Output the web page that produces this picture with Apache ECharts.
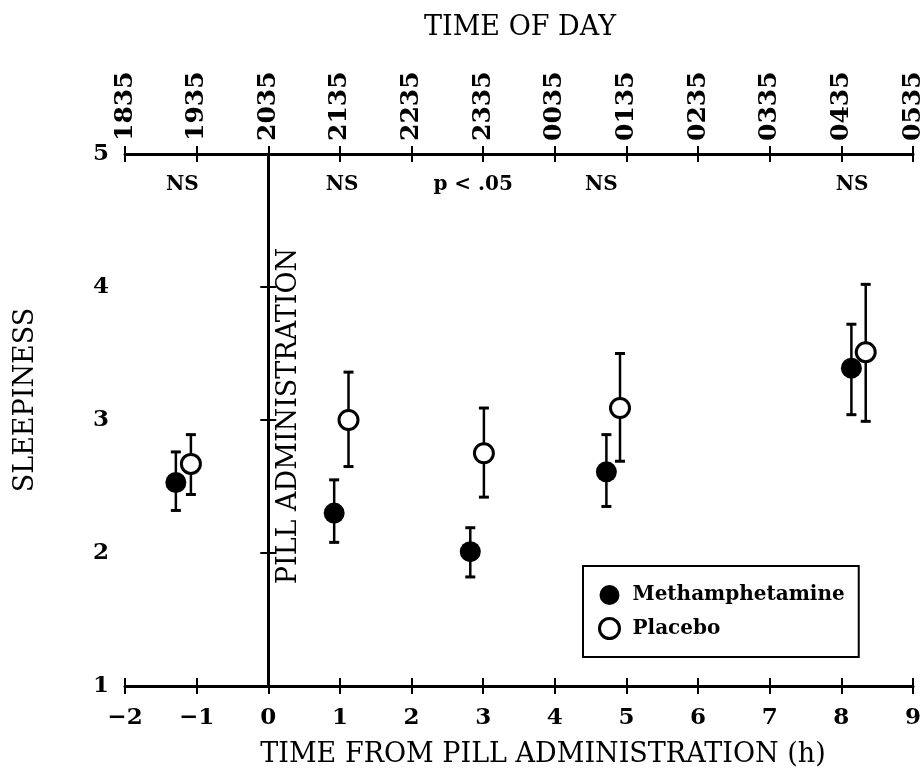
<!DOCTYPE html>
<html>
<head>
<meta charset="utf-8">
<title>Sleepiness</title>
<script src="https://cdn.jsdelivr.net/npm/echarts@6/dist/echarts.min.js"></script>
<style>
  html, body { margin: 0; padding: 0; background: #fff; }
  #main { width: 922px; height: 780px; }
</style>
</head>
<body>
<div id="main"></div>
<script>
var timeLabels = ['1835', '1935', '2035', '2135', '2235', '2335', '0035', '0135', '0235', '0335', '0435', '0535'];

// methamphetamine group
var methX = [-1.29, 0.92, 2.82, 4.72, 8.14];
var methY = [2.53, 2.30, 2.01, 2.61, 3.39];
var methLo = [2.32, 2.08, 1.82, 2.35, 3.04];
var methHi = [2.76, 2.55, 2.19, 2.89, 3.72];

// placebo group
var placX = [-1.08, 1.12, 3.01, 4.91, 8.34];
var placY = [2.67, 3.00, 2.75, 3.09, 3.51];
var placLo = [2.44, 2.65, 2.42, 2.69, 2.99];
var placHi = [2.89, 3.36, 3.09, 3.50, 4.02];

// significance notes along the top
var noteX = [-1.2, 1.03, 2.86, 4.65, 8.15];
var noteText = ['NS', 'NS', 'p < .05', 'NS', 'NS'];
var noteY = 4.77;

// pill given at hour 0
var pillX = 0;

var SERIF = '"DejaVu Serif", "Liberation Serif", serif';

function zip(xs, ys) {
    var out = [];
    for (var i = 0; i < xs.length; i++) out.push([xs[i], ys[i]]);
    return out;
}
function zipErr(xs, lo, hi) {
    var out = [];
    for (var i = 0; i < xs.length; i++) out.push([xs[i], lo[i], hi[i]]);
    return out;
}

function errorBars(params, api) {
    var x = api.value(0);
    var lo = api.coord([x, api.value(1)]);
    var hi = api.coord([x, api.value(2)]);
    var half = 5;
    return {
        type: 'group',
        children: [
            { type: 'line', shape: { x1: lo[0], y1: lo[1], x2: hi[0], y2: hi[1] }, style: { stroke: '#000', lineWidth: 2.5 } },
            { type: 'line', shape: { x1: lo[0] - half, y1: lo[1], x2: lo[0] + half, y2: lo[1] }, style: { stroke: '#000', lineWidth: 3 } },
            { type: 'line', shape: { x1: hi[0] - half, y1: hi[1], x2: hi[0] + half, y2: hi[1] }, style: { stroke: '#000', lineWidth: 3 } }
        ]
    };
}

function noteItem(params, api) {
    var p = api.coord([api.value(0), api.value(1)]);
    return {
        type: 'text', x: p[0], y: p[1],
        style: {
            text: noteText[params.dataIndex], fill: '#000',
            font: 'bold 20px ' + SERIF, align: 'center', verticalAlign: 'middle'
        }
    };
}

function pillLine(params, api) {
    var a = api.coord([api.value(0), 1]);
    var b = api.coord([api.value(0), 5]);
    return {
        type: 'line',
        shape: { x1: Math.round(a[0]) + 0.5, y1: a[1], x2: Math.round(b[0]) + 0.5, y2: b[1] },
        style: { stroke: '#000', lineWidth: 1 }
    };
}

var myChart = echarts.init(document.getElementById('main'));

var tickLabel = { color: '#000', fontFamily: SERIF, fontWeight: 'bold', fontSize: 23 };
var axisLine = { show: true, lineStyle: { color: '#000', width: 3 } };
var tickStyle = { color: '#000', width: 2 };

var option = {
    backgroundColor: '#fff',
    animation: false,
    grid: { left: 125, right: 9, top: 154, bottom: 94, outerBoundsMode: 'none' },
    xAxis: [{
        type: 'value', min: -2, max: 9, interval: 1, position: 'bottom',
        axisLine: axisLine,
        axisTick: { show: true, inside: false, length: 8, lineStyle: tickStyle },
        splitLine: { show: false },
        axisLabel: Object.assign({ margin: 21, formatter: function (v) { return v < 0 ? '\u2212' + Math.abs(v) : '' + v; } }, tickLabel)
    }, {
        type: 'value', min: -2, max: 9, interval: 1, position: 'bottom',
        axisLine: { show: false },
        axisTick: { show: true, inside: true, length: 8, lineStyle: tickStyle },
        splitLine: { show: false },
        axisLabel: { show: false }
    }, {
        type: 'value', min: -2, max: 9, interval: 1, position: 'top',
        axisLine: axisLine,
        axisTick: { show: true, inside: false, length: 8, lineStyle: tickStyle },
        splitLine: { show: false },
        axisLabel: Object.assign({}, tickLabel, { fontSize: 25, margin: 13, rotate: -90, formatter: function (v) { return timeLabels[Math.round(v) + 2]; } })
    }, {
        type: 'value', min: -2, max: 9, interval: 1, position: 'top',
        axisLine: { show: false },
        axisTick: { show: true, inside: true, length: 8, lineStyle: tickStyle },
        splitLine: { show: false },
        axisLabel: { show: false }
    }],
    yAxis: [{
        type: 'value', min: 1, max: 5, interval: 1, position: 'left',
        axisLine: axisLine,
        axisTick: { show: true, inside: false, length: 8, lineStyle: tickStyle },
        splitLine: { show: false },
        axisLabel: Object.assign({ margin: 16 }, tickLabel)
    }, {
        type: 'value', min: 1, max: 5, interval: 1, position: 'left',
        axisLine: { show: false },
        axisTick: { show: true, inside: true, length: 8, lineStyle: tickStyle },
        splitLine: { show: false },
        axisLabel: { show: false }
    }, {
        type: 'value', min: 1, max: 5, interval: 1, position: 'right',
        axisLine: axisLine,
        axisTick: { show: false },
        splitLine: { show: false },
        axisLabel: { show: false }
    }],
    legend: {
        left: 583, top: 566,
        orient: 'vertical',
        backgroundColor: '#fff',
        borderColor: '#000', borderWidth: 2, borderRadius: 0,
        padding: [19, 14, 17, 15],
        itemWidth: 20, itemHeight: 20, itemGap: 12,
        textStyle: { color: '#000', fontFamily: SERIF, fontWeight: 'bold', fontSize: 20, padding: [0, 0, 0, 8] },
        data: [
            { name: 'Methamphetamine', icon: 'circle', itemStyle: { color: '#000', borderWidth: 0 } },
            { name: 'Placebo', icon: 'circle', itemStyle: { color: '#fff', borderColor: '#000', borderWidth: 3 } }
        ]
    },
    series: [{
        name: 'pill', type: 'custom', renderItem: pillLine, silent: true, z: 1,
        data: [[pillX]]
    }, {
        name: 'methErr', type: 'custom', renderItem: errorBars, z: 2,
        data: zipErr(methX, methLo, methHi)
    }, {
        name: 'placErr', type: 'custom', renderItem: errorBars, z: 2,
        data: zipErr(placX, placLo, placHi)
    }, {
        name: 'Methamphetamine', type: 'scatter', z: 5,
        symbol: 'circle', symbolSize: 21,
        itemStyle: { color: '#000', opacity: 1 },
        data: zip(methX, methY)
    }, {
        name: 'Placebo', type: 'scatter', z: 6,
        symbol: 'circle', symbolSize: 19,
        itemStyle: { color: '#fff', borderColor: '#000', borderWidth: 3, opacity: 1 },
        data: zip(placX, placY)
    }, {
        name: 'notes', type: 'custom', renderItem: noteItem, silent: true,
        data: noteX.map(function (x) { return [x, noteY]; })
    }],
    graphic: [{
        type: 'text', x: 543, y: 755,
        style: { text: 'TIME FROM PILL ADMINISTRATION (h)', fill: '#000', font: '27px ' + SERIF, align: 'center', verticalAlign: 'middle' }
    }, {
        type: 'text', x: 520, y: 28,
        style: { text: 'TIME OF DAY', fill: '#000', font: '27px ' + SERIF, align: 'center', verticalAlign: 'middle' }
    }, {
        type: 'text', x: 26, y: 400, rotation: Math.PI / 2,
        style: { text: 'SLEEPINESS', fill: '#000', font: '27px ' + SERIF, align: 'center', verticalAlign: 'middle' }
    }, {
        type: 'text', x: 289, y: 416, rotation: Math.PI / 2,
        style: { text: 'PILL ADMINISTRATION', fill: '#000', font: '27px ' + SERIF, align: 'center', verticalAlign: 'middle' }
    }]
};

myChart.setOption(option);
</script>
</body>
</html>
